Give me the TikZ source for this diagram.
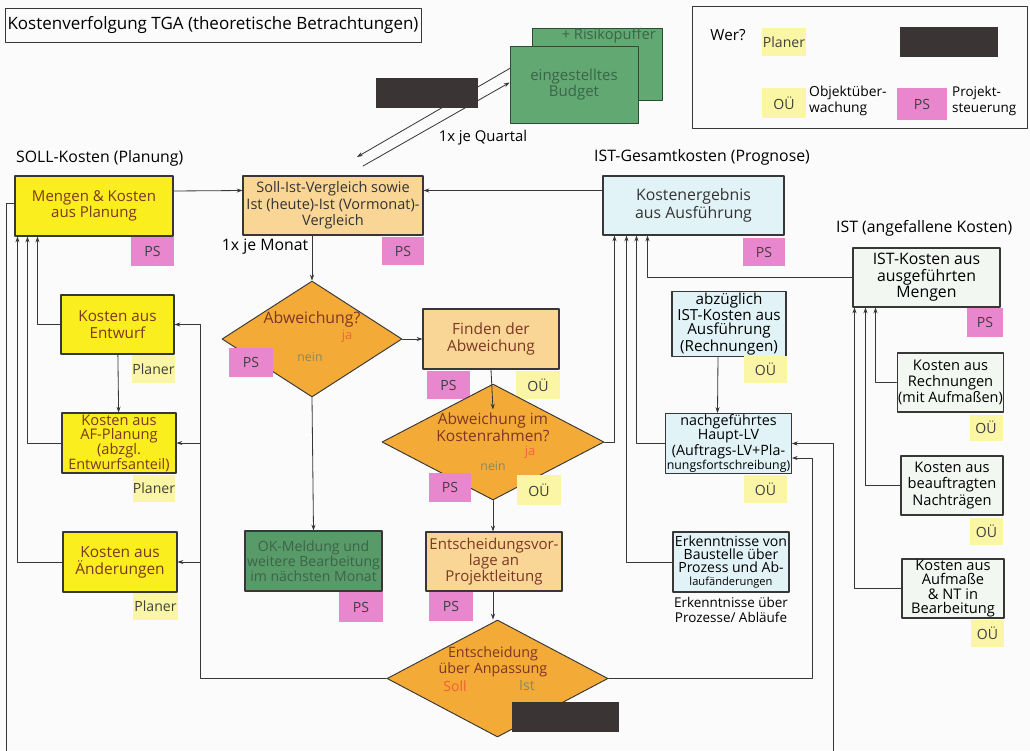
\documentclass[tikz,border=0pt]{standalone}
\usepackage{fontspec}
\setmainfont{Open Sans}
\usetikzlibrary{shapes.geometric,arrows.meta}

\definecolor{gelb}{RGB}{250,238,30}
\definecolor{hellgelb}{RGB}{250,246,165}
\definecolor{pfirsich}{RGB}{249,214,150}
\definecolor{rautegelb}{RGB}{244,170,55}
\definecolor{rosa}{RGB}{232,135,205}
\definecolor{hellblau}{RGB}{226,243,248}
\definecolor{istweiss}{RGB}{242,247,242}
\definecolor{gruen}{RGB}{98,168,115}
\definecolor{okgruen}{RGB}{88,155,105}
\definecolor{dunkel}{RGB}{58,52,52}
\definecolor{linie}{RGB}{55,55,55}
\definecolor{txtbraun}{RGB}{125,55,35}
\definecolor{txtgruen}{RGB}{60,100,72}
\definecolor{jarot}{RGB}{240,105,55}
\definecolor{neingrau}{RGB}{125,140,105}

\newlength\pxu
\setlength\pxu{0.03cm}

\tikzset{
  wh/.style 2 args={minimum width=#1\pxu,minimum height=#2\pxu},
  fs/.style 2 args={font=\fontsize{#1}{#2}\selectfont},
  box/.style={draw=linie,line width=0.9pt,rectangle,inner sep=1pt,align=center,fs={12.8}{14}},
  raute/.style={draw=linie,line width=0.8pt,diamond,fill=rautegelb,inner sep=0pt},
  txt/.style={inner sep=0pt,align=center,fs={12.8}{14}},
  tag/.style={inner sep=0pt,fs={12}{13},text=black!75},
  tagps/.style={tag,fill=rosa},
  tagoe/.style={tag,fill=hellgelb},
  verb/.style={draw=linie,line width=0.7pt},
  pfeil/.style={verb,-{Stealth[length=5pt,width=3.5pt]}}
}

\begin{document}
\begin{tikzpicture}[x=\pxu,y=-\pxu,line cap=round,line join=round]
  \fill[white!97!gray] (0,0) rectangle (1030,750);
  \useasboundingbox (0,0) rectangle (1030,750);

  % Kopf
  \node[draw=linie,line width=0.6pt,wh={416}{34},inner sep=0pt,fs={14.5}{17}] (titel) at (213,25)
    {Kostenverfolgung TGA (theoretische Betrachtungen)};

  % Budget
  \coordinate (qa) at (357,157);
  \coordinate (qb) at (363,166);
  \node[box,fill=gruen,draw=gruen!45!black,line width=0.6pt,wh={130}{72}] (puffer) at (597,64) {};
  \node[txt,text=txtgruen,anchor=east,fs={12.5}{14}] (puffertext) at (656,36) {+ Risikopuffer};
  \node[box,fill=gruen,draw=gruen!45!black,line width=0.6pt,wh={128}{77},text=txtgruen] (budget) at (574,84.5)
    {eingestelltes\\Budget};
  \draw[pfeil] ([yshift=16\pxu]budget.west) -- (qa);
  \draw[pfeil] (qb) -- ([yshift=2\pxu]budget.west);
  \node[fill=dunkel,wh={102}{30},inner sep=0pt] (schwarz1) at (427,93) {};
  \node[txt,fs={12.7}{14}] (quartal) at (483,138) {1x je Quartal};

  % Legende
  \node[draw=linie,line width=0.8pt,wh={335}{122}] (legende) at (859.5,67) {};
  \node[txt,fs={13}{14}] (wer) at (728,35) {Wer?};
  \node[tagoe,wh={44}{28}] (legplaner) at (784,42) {Planer};
  \node[fill=dunkel,wh={98}{30},inner sep=0pt] (schwarz2) at (949,42) {};
  \node[tagoe,wh={44}{30}] (legoe) at (784,103) {OÜ};
  \node[txt,anchor=west,align=left,fs={11.8}{13}] (legoetext) at (809,101)
    {Objektüber-\\wachung};
  \node[tagps,wh={50}{32}] (legps) at (922,104) {PS};
  \node[txt,anchor=west,align=left,fs={11.5}{13}] (legpstext) at (952,101)
    {Projekt-\\steuerung};

  % Ueberschriften
  \node[txt,anchor=west,fs={13.5}{15}] (soll) at (16,158) {SOLL-Kosten (Planung)};
  \node[txt,anchor=west,fs={13.5}{15}] (istges) at (594,157) {IST-Gesamtkosten (Prognose)};
  \node[txt,anchor=west,fs={13.5}{15}] (istang) at (836,228) {IST (angefallene Kosten)};

  % SOLL-Seite
  \node[box,fill=gelb,text=txtbraun,wh={158}{60}] (mengen) at (94,206) {Mengen \& Kosten\\aus Planung};
  \node[tagps,wh={43}{29}] (psmengen) at (152.5,251.5) {PS};
  \node[box,fill=gelb,text=txtbraun,wh={113}{59},fs={13}{14}] (entwurf) at (117.5,324.5) {Kosten aus\\Entwurf};
  \node[tagoe,wh={43}{28}] (plentwurf) at (153.5,369) {Planer};
  \node[box,fill=gelb,text=txtbraun,wh={114}{60},fs={12.5}{12.5}] (afplanung) at (119,443)
    {Kosten aus\\AF-Planung\\(abzgl.\\{\fontsize{12.3}{12.5}\selectfont Entwurfsanteil)}};
  \node[tagoe,wh={42}{27}] (plaf) at (154,488.5) {Planer};
  \node[box,fill=gelb,text=txtbraun,wh={114}{60},fs={13.2}{14.5}] (aenderung) at (120,562) {Kosten aus\\Änderungen};
  \node[tagoe,wh={45}{27}] (plaend) at (155.5,606.5) {Planer};

  \coordinate (linksunten) at (6,752);
  \draw[verb] ([yshift=3\pxu]mengen.west) -| (linksunten);
  \draw[pfeil] (entwurf.west) -| ([xshift=23\pxu]mengen.south west);
  \draw[pfeil] (afplanung.west) -| ([xshift=13\pxu]mengen.south west);
  \draw[pfeil] (aenderung.west) -| ([xshift=3\pxu]mengen.south west);
  \draw[pfeil] (entwurf) -- (afplanung);

  % Mitte
  \node[box,fill=pfirsich,text=black!80,wh={180}{59},fs={12.4}{14}] (vergleich) at (333,205.5)
    {Soll-Ist-Vergleich sowie\\Ist (heute)-Ist (Vormonat)-\\Vergleich};
  \node[tagps,wh={42}{28}] (psvergleich) at (403,251) {PS};
  \node[txt,fs={13.5}{15}] (monat) at (265,247) {1x je Monat};

  \node[raute,wh={180}{116}] (abw) at (312,339) {};
  \node[txt,text=txtbraun,fs={13.5}{15}] (abwtext) at (312,319) {Abweichung?};
  \node[txt,text=jarot,fs={11}{12}] (abwja) at (347,336) {ja};
  \node[txt,text=neingrau,fs={10.5}{12}] (abwnein) at (310,357) {nein};
  \node[tagps,wh={44}{29}] (psabw) at (251,362.5) {PS};

  \node[box,fill=pfirsich,text=txtbraun,wh={136}{60},fs={13.2}{15}] (finden) at (491,339) {Finden der\\Abweichung};
  \node[tagps,wh={43}{28}] (psfinden) at (448.5,385) {PS};
  \node[tagoe,wh={44}{28}] (oefinden) at (538,385) {OÜ};

  \node[raute,wh={222}{116}] (rahmen) at (493,442) {};
  \node[txt,text=txtbraun,fs={13.2}{14.5}] (rahmentext) at (493,427) {Abweichung im\\Kostenrahmen?};
  \node[txt,text=jarot,fs={11}{12}] (rahmenja) at (530,452) {ja};
  \node[txt,text=neingrau,fs={10.5}{12}] (rahmennein) at (493,466) {nein};
  \node[tagps,wh={42}{29}] (psrahmen) at (450,487.5) {PS};
  \node[tagoe,wh={44}{30}] (oerahmen) at (539,490) {OÜ};

  \node[box,fill=okgruen,text=txtgruen,wh={137}{60},fs={12}{13}] (okmeldung) at (313.5,561)
    {OK-Meldung und\\weitere Bearbeitung\\im nächsten Monat};
  \node[tagps,wh={44}{30}] (psok) at (361,607) {PS};

  \node[box,fill=pfirsich,text=txtbraun,wh={136}{59}] (vorlage) at (494,561.5)
    {Entscheidungsvor-\\lage an\\Projektleitung};
  \node[tagps,wh={44}{29}] (psvorlage) at (451,606.5) {PS};

  \node[raute,wh={221}{117}] (anpassung) at (497.5,678.5) {};
  \node[txt,text=txtbraun,fs={12.2}{14}] (anptext) at (493,662) {Entscheidung\\über Anpassung};
  \node[txt,text=jarot!90!red,fs={12}{13}] (anpsoll) at (455,686) {Soll};
  \node[txt,text=neingrau,fs={12}{13}] (anpist) at (527,686) {Ist};
  \node[fill=dunkel,wh={107}{30},inner sep=0pt] (schwarz3) at (565.5,717) {};

  \draw[pfeil] ([yshift=15\pxu]mengen.east) -- ([yshift=15\pxu]vergleich.west);
  \draw[pfeil] (vergleich.south -| abw.north) -- (abw.north);
  \draw[pfeil] (abw.east) -- (finden.west);
  \draw[pfeil] (abw.south) -- (okmeldung.north);
  \draw[pfeil] (finden.south) -- ([yshift=-26\pxu]rahmen.north);
  \draw[pfeil] (rahmen.south) -- (vorlage.north -| rahmen.south);
  \draw[pfeil] (vorlage.south -| rahmen.south) -- (anpassung.north -| rahmen.south);
  \coordinate (rueck) at (200,324.5);
  \draw[pfeil] (anpassung.west) -| (rueck) -- (entwurf.east);
  \draw[pfeil] (rueck |- afplanung.east) -- (afplanung.east);
  \draw[pfeil] (rueck |- aenderung.east) -- (aenderung.east);

  % IST-Gesamtkosten
  \node[box,fill=hellblau,text=black!80,wh={181}{59},fs={13.5}{15}] (kostenerg) at (693.5,205.5)
    {Kostenergebnis\\aus Ausführung};
  \node[tagps,wh={42}{28}] (pskosten) at (764,252) {PS};
  \node[box,fill=hellblau,wh={114}{60},fs={13}{12.2}] (abzueglich) at (729,324)
    {abzüglich\\IST-Kosten aus\\Ausführung\\(Rechnungen)};
  \node[tagoe,wh={43}{27}] (oeabz) at (765.5,369.5) {OÜ};
  \node[box,fill=hellblau,wh={121}{59},fs={12.2}{12}] (hauptlv) at (728.5,443.5)
    {nachgeführtes\\Haupt-LV\\(Auftrags-LV+Pla-\\{\fontsize{10.5}{12}\selectfont nungsfortschreibung)}};
  \node[tagoe,wh={43}{28}] (oehaupt) at (765.5,489) {OÜ};
  \node[box,fill=hellblau,wh={116}{60},fs={12}{11}] (erkenntnis) at (731,562)
    {Erkenntnisse von\\Baustelle über\\Prozess und Ab-\\{\fontsize{9.5}{11}\selectfont laufänderungen}};
  \node[txt,fs={11.5}{12.5}] (erktext) at (731,610) {Erkenntnisse über\\Prozesse/ Abläufe};

  \draw[pfeil] ([yshift=15\pxu]kostenerg.west) -- ([yshift=15\pxu]vergleich.east);
  \draw[pfeil] (rahmen.east) -| ([xshift=12\pxu]kostenerg.south west);
  \draw[pfeil] (erkenntnis.west) -| ([xshift=24\pxu]kostenerg.south west);
  \draw[pfeil] (hauptlv.west) -| ([xshift=34\pxu]kostenerg.south west);
  \draw[pfeil] ([xshift=-11\pxu]abzueglich.south) -- ([xshift=-11\pxu]hauptlv.north);
  \coordinate (ecke) at (812,458);
  \draw[pfeil] (anpassung.east) -| (ecke) -- (ecke -| hauptlv.east);
  \coordinate (unten) at (833,752);
  \draw[pfeil] (unten) |- (hauptlv.east);

  % IST angefallen
  \node[box,fill=istweiss,wh={147}{59},fs={13.5}{14}] (istkosten) at (926.5,277.5)
    {IST-Kosten aus\\ausgeführten\\Mengen};
  \node[tagps,wh={36}{29}] (psist) at (985,322.5) {PS};
  \node[box,fill=istweiss,wh={103}{59},fs={12.5}{14}] (rechnungen) at (950.5,382.5)
    {Kosten aus\\Rechnungen\\{\fontsize{12.3}{14}\selectfont (mit Aufmaßen)}};
  \node[tagoe,wh={33}{26}] (oerech) at (986,427.5) {OÜ};
  \node[box,fill=istweiss,wh={102}{59},fs={12.5}{14}] (nachtraege) at (952,485.5)
    {Kosten aus\\beauftragten\\Nachträgen};
  \node[tagoe,wh={33}{27}] (oenach) at (986.5,531.5) {OÜ};
  \node[box,fill=istweiss,wh={102}{59},fs={12.5}{12}] (aufmasse) at (953,588.5)
    {Kosten aus\\Aufmaße\\\& NT in\\Bearbeitung};
  \node[tagoe,wh={33}{27}] (oeaufm) at (987.5,633.5) {OÜ};

  \draw[pfeil] (istkosten.west) -| ([xshift=45\pxu]kostenerg.south west);
  \draw[pfeil] (rechnungen.west) -| ([xshift=23\pxu]istkosten.south west);
  \draw[pfeil] (nachtraege.west) -| ([xshift=13\pxu]istkosten.south west);
  \draw[pfeil] (aufmasse.west) -| ([xshift=2\pxu]istkosten.south west);
\end{tikzpicture}
\end{document}
